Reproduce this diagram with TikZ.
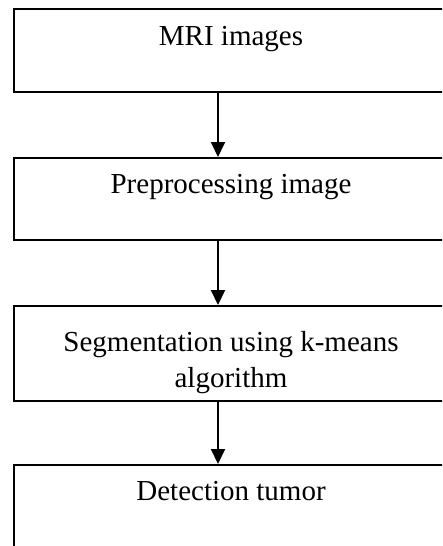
\documentclass[tikz,border=0pt]{standalone}
\usepackage{fontspec}
\setmainfont{Liberation Serif}
\usetikzlibrary{arrows.meta}
\begin{document}
\begin{tikzpicture}[x=1pt,y=-1pt,
  stepbox/.style={draw=black,line width=1.6pt,minimum width=436pt,inner sep=0pt,anchor=north west},
  steplabel/.style={anchor=base,align=center,inner sep=0pt,font=\fontsize{29}{36}\selectfont},
  flow/.style={line width=2pt,-{Triangle[length=15pt,width=14pt]}}]
\useasboundingbox (0,0) rectangle (442,546);
\clip (0,0) rectangle (442,546);
\node[stepbox,minimum height=83pt] (b1) at (13,8) {};
\node[stepbox,minimum height=82pt] (b2) at (13,157) {};
\node[stepbox,minimum height=95pt] (b3) at (13,305) {};
\node[stepbox,minimum height=120pt] (b4) at (13,464) {};
\node[steplabel] (t1) at (231,45) {MRI images};
\node[steplabel] (t2) at (231,193) {Preprocessing image};
\node[steplabel] (t3) at (231,387) {Segmentation using k-means\\algorithm};
\node[steplabel] (t4) at (231,500) {Detection tumor};
\coordinate (ax) at (218,0);
\draw[flow] (b1.south -| ax) -- (b2.north -| ax);
\draw[flow] (b2.south -| ax) -- (b3.north -| ax);
\draw[flow] (b3.south -| ax) -- (b4.north -| ax);
\end{tikzpicture}
\end{document}
